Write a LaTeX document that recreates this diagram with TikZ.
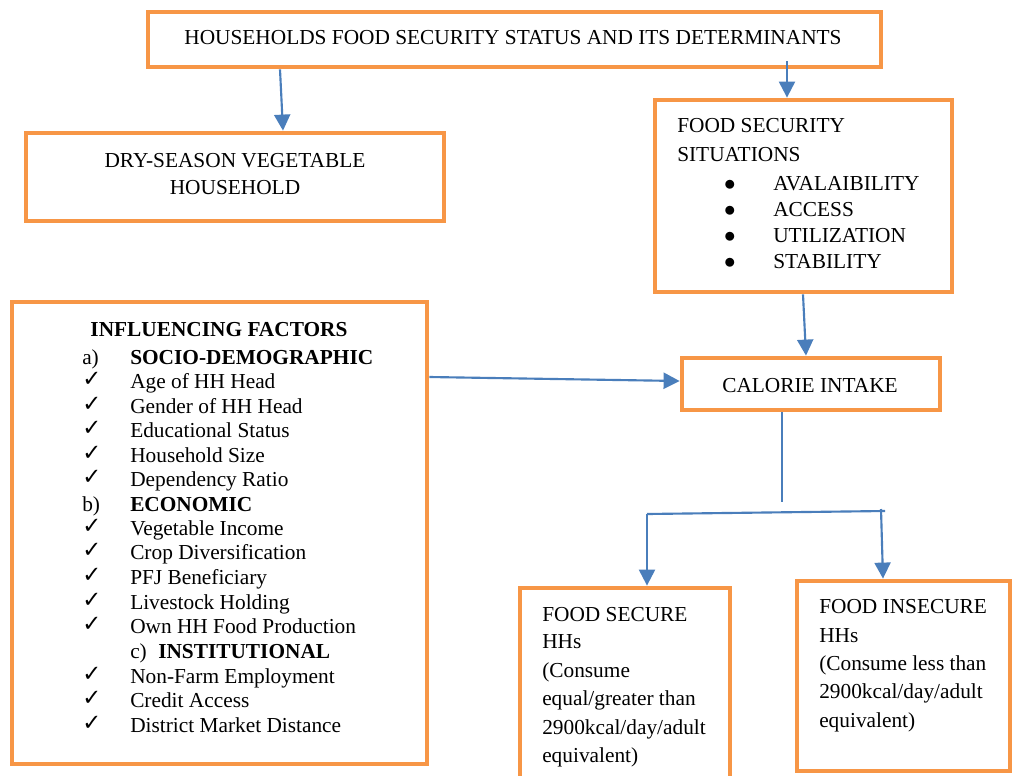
\documentclass[tikz,border=0pt]{standalone}
\usepackage{fontspec}
\setmainfont{Liberation Serif}
\newfontfamily\symfont{DejaVu Sans}
\usetikzlibrary{arrows.meta,fit,calc}
\definecolor{boxorange}{RGB}{247,150,70}
\definecolor{arrowblue}{RGB}{74,126,187}
\tikzset{
  box/.style={draw=boxorange, line width=3.6pt, inner sep=0pt, fill=white},
  conn/.style={draw=arrowblue, line width=1.6pt},
  arr/.style={conn, -{Triangle[length=12pt,width=12pt]}},
  txt/.style={anchor=base west, inner sep=0pt, font=\fontsize{16}{19}\selectfont},
  ctxt/.style={anchor=base, inner sep=0pt, font=\fontsize{16}{19}\selectfont},
  btxt/.style={txt, font=\fontsize{16}{19}\selectfont\bfseries},
  cktxt/.style={anchor=base west, inner sep=0pt, font=\fontsize{17}{19}\symfont\bfseries},
}
\begin{document}
\begin{tikzpicture}[x=0.75pt,y=-0.75pt]
\useasboundingbox (0,0) rectangle (1014,775);
\clip (0,0) rectangle (1014,775);
\fill[white] (0,0) rectangle (1014,775);

% boxes
\node[box, fit={(148,12) (881,67)}] (top) {};
\node[box, fit={(26,133) (444,221)}] (dry) {};
\node[box, fit={(655,100) (952,292)}] (fss) {};
\node[box, fit={(682,358) (940,410)}] (cal) {};
\node[box, fit={(12,302) (427,764)}] (inf) {};
\node[box, fit={(520,588) (730,795)}] (sec) {};
\node[box, fit={(797,581) (1010,771)}] (ins) {};

% top title
\node[ctxt] (ttl) at (513,44) {HOUSEHOLDS FOOD SECURITY STATUS AND ITS DETERMINANTS};

% dry-season box
\node[ctxt] (dry1) at (235,167) {DRY-SEASON VEGETABLE};
\node[ctxt] (dry2) at (235,194) {HOUSEHOLD};

% food security situations
\node[txt] (fs1) at (677,132) {FOOD SECURITY};
\node[txt] (fs2) at (677,161) {SITUATIONS};
\foreach \yy/\lbl [count=\i] in {190/AVALAIBILITY,216/ACCESS,242/UTILIZATION,268/STABILITY}{
  \node[ctxt] (bu\i) at (730,\yy) {$\bullet$};
  \node[txt] (fsi\i) at (773,\yy) {\lbl};
}

% calorie intake
\node[ctxt] (calt) at (810,392) {CALORIE INTAKE};

% influencing factors
\node[ctxt, font=\fontsize{16}{19}\selectfont\bfseries] (inft) at (219,336) {INFLUENCING FACTORS};
\node[txt] (ia) at (82,364) {a)};
\node[btxt] (ih1) at (130,364) {SOCIO-DEMOGRAPHIC};
\node[txt] (ib) at (82,511) {b)};
\node[btxt] (ih2) at (130,511) {ECONOMIC};
\node[txt] (ic) at (130,658) {c)};
\node[btxt] (ih3) at (158,658) {INSTITUTIONAL};
\foreach \yy/\lbl [count=\i] in {388/Age of HH Head,413/Gender of HH Head,437/Educational Status,462/Household Size,486/Dependency Ratio,535/Vegetable Income,559/Crop Diversification,584/PFJ Beneficiary,609/Livestock Holding,633/Own HH Food Production,683/Non-Farm Employment,707/Credit Access,732/District Market Distance}{
  \node[cktxt] (ck\i) at (82,\yy-2) {✓};
  \node[txt] (it\i) at (130,\yy) {\lbl};
}

% food secure
\foreach \yy/\lbl [count=\i] in {621/{FOOD SECURE},648/{HHs},677/{(Consume},705/{equal/greater than},734/{2900kcal/day/adult},762/{equivalent)}}{
  \node[txt] (se\i) at (542,\yy) {\lbl};
}
% food insecure
\foreach \yy/\lbl [count=\i] in {613/{FOOD INSECURE},642/{HHs},670/{(Consume less than},698/{2900kcal/day/adult},727/{equivalent)}}{
  \node[txt] (in\i) at (819,\yy) {\lbl};
}

% connectors
\draw[arr] (top.south -| 280,0) -- (dry.north -| 283,0);
\draw[arr] ($(top.south -| 787,0)+(0,-8)$) -- (fss.north -| 787,0);
\draw[arr] (fss.south -| 803,0) -- (cal.north -| 806,0);
\draw[arr] (inf.east |- 0,377) -- (cal.west |- 0,381);
\coordinate (j) at (782,502);
\draw[conn] (cal.south -| 782,0) -- (j);
\coordinate (hl) at (647,514);
\coordinate (hr) at (885,511);
\coordinate (rt) at (881,509);
\draw[conn] (hl) -- (hr);
\draw[arr] (hl) -- (sec.north -| 647,0);
\draw[arr] (rt) -- (ins.north -| 883,0);
\end{tikzpicture}
\end{document}
